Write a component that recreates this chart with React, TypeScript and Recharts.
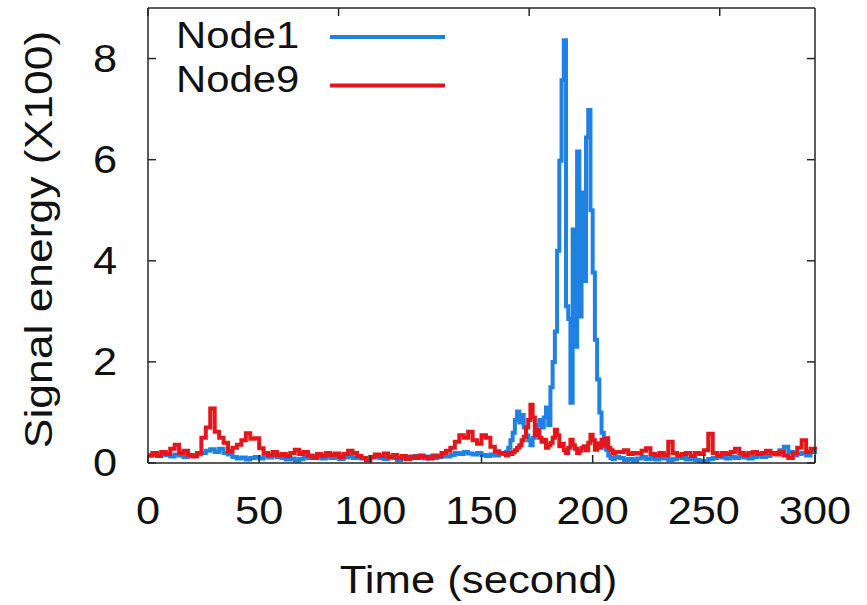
import { LineChart, Line, XAxis, YAxis, Legend, Label } from 'recharts';

// time stamps (s): 2 s steps, 1 s steps around the event
const times = [
  0, 2, 4, 6, 8, 10, 12, 14, 16, 18, 20, 22, 24, 26, 28, 30, 32, 34, 36, 38,
  40, 42, 44, 46, 48, 50, 52, 54, 56, 58, 60, 62, 64, 66, 68, 70, 72, 74, 76, 78,
  80, 82, 84, 86, 88, 90, 92, 94, 96, 98, 100, 102, 104, 106, 108, 110, 112, 114, 116, 118,
  120, 122, 124, 126, 128, 130, 132, 134, 136, 138, 140, 142, 144, 146, 148, 150, 152, 154, 156, 158,
  160, 161, 162, 163, 164, 165, 166, 167, 168, 169, 170, 171, 172, 173, 174, 175, 176, 177, 178, 179,
  180, 181, 182, 183, 184, 185, 186, 187, 188, 189, 190, 191, 192, 193, 194, 195, 196, 197, 198, 199,
  200, 201, 202, 203, 204, 205, 206, 207, 208, 209, 210,
  212, 214, 216, 218, 220, 222, 224, 226, 228, 230, 232, 234, 236, 238, 240, 242, 244, 246, 248, 250,
  252, 254, 256, 258, 260, 262, 264, 266, 268, 270, 272, 274, 276, 278, 280, 282, 284, 286, 288, 290,
  292, 294, 296, 298, 300,
];

const node1 = [
  0.15, 0.18, 0.14, 0.2, 0.16, 0.13, 0.17, 0.15, 0.12, 0.16, 0.14, 0.17, 0.2, 0.24, 0.27, 0.22, 0.28, 0.2, 0.17, 0.12,
  0.09, 0.11, 0.07, 0.1, 0.12, 0.09, 0.14, 0.11, 0.15, 0.12, 0.1, 0.07, 0.09, 0.05, 0.08, 0.12, 0.1, 0.14, 0.11, 0.09,
  0.13, 0.1, 0.12, 0.08, 0.11, 0.14, 0.1, 0.12, 0.09, 0.07, 0.11, 0.13, 0.1, 0.08, 0.12, 0.1, 0.06, 0.09, 0.12, 0.1,
  0.14, 0.11, 0.09, 0.13, 0.1, 0.12, 0.15, 0.13, 0.16, 0.2, 0.18, 0.22, 0.19, 0.17, 0.2, 0.16, 0.14, 0.17, 0.15, 0.18,
  0.2, 0.22, 0.3, 0.45, 0.6, 0.85, 1.02, 0.8, 0.95, 0.7, 0.55, 0.45, 0.35, 0.5, 0.62, 0.75, 0.85, 0.7, 0.9, 1.1,
  0.75, 1.5, 2.0, 2.6, 4.2, 5.98, 7.57, 8.36, 3.1, 2.85, 1.19, 4.62, 2.3, 6.16, 2.9, 5.35, 3.6, 6.44, 6.98, 5.0,
  3.77, 2.44, 1.65, 1.0, 0.6, 0.4, 0.26, 0.15, 0.1, 0.08, 0.12,
  0.1, 0.06, 0.08, 0.05, 0.09, 0.12, 0.08, 0.1, 0.07, 0.11, 0.09, 0.06, 0.08, 0.12, 0.1, 0.07, 0.09, 0.06, 0.04, 0.03,
  0.08, 0.1, 0.13, 0.11, 0.09, 0.12, 0.1, 0.14, 0.11, 0.09, 0.12, 0.15, 0.12, 0.14, 0.18, 0.2, 0.25, 0.32, 0.22, 0.15,
  0.18, 0.2, 0.15, 0.22, 0.18,
];

const node9 = [
  0.15, 0.2, 0.14, 0.22, 0.18, 0.28, 0.36, 0.2, 0.24, 0.16, 0.13, 0.2, 0.5, 0.7, 1.08, 0.62, 0.5, 0.4, 0.23, 0.3,
  0.36, 0.45, 0.59, 0.48, 0.49, 0.29, 0.2, 0.16, 0.22, 0.16, 0.18, 0.14, 0.2, 0.26, 0.18, 0.22, 0.15, 0.1, 0.18, 0.14,
  0.2, 0.16, 0.19, 0.12, 0.18, 0.24, 0.2, 0.14, 0.1, 0.05, 0.12, 0.17, 0.14, 0.19, 0.12, 0.16, 0.1, 0.14, 0.08, 0.13,
  0.1, 0.15, 0.12, 0.09, 0.15, 0.13, 0.2, 0.24, 0.3, 0.42, 0.55, 0.5, 0.62, 0.45, 0.38, 0.55, 0.5, 0.32, 0.23, 0.2,
  0.19, 0.15, 0.2, 0.18, 0.22, 0.25, 0.3, 0.35, 0.45, 0.52, 0.7, 0.85, 1.15, 0.9, 0.55, 0.65, 0.5, 0.42, 0.46, 0.3,
  0.35, 0.4, 0.5, 0.66, 0.55, 0.33, 0.38, 0.25, 0.2, 0.3, 0.46, 0.35, 0.28, 0.2, 0.24, 0.3, 0.33, 0.25, 0.4, 0.56,
  0.45, 0.26, 0.39, 0.3, 0.46, 0.35, 0.49, 0.3, 0.25, 0.2, 0.22,
  0.22, 0.25, 0.18, 0.2, 0.19, 0.24, 0.29, 0.18, 0.15, 0.2, 0.16, 0.42, 0.2, 0.15, 0.18, 0.2, 0.14, 0.2, 0.18, 0.25,
  0.58, 0.2, 0.15, 0.2, 0.18, 0.22, 0.28, 0.2, 0.16, 0.2, 0.22, 0.18, 0.2, 0.24, 0.2, 0.17, 0.22, 0.15, 0.1, 0.2,
  0.3, 0.45, 0.22, 0.28, 0.26,
];

const xTicks = [0, 50, 100, 150, 200, 250, 300];
const yTicks = [0, 2, 4, 6, 8];

const data = times.map((t, i) => ({ t, node1: node1[i], node9: node9[i] }));

const FONT = '"Liberation Sans", Arial, sans-serif';
const STRETCH = 1.14;
const FRAME = '#262626';

const XTick = ({ x, y, payload }: any) => (
  <text
    transform={`translate(${x},${y}) scale(${STRETCH},1)`}
    textAnchor="middle"
    dy="0.71em"
    fontFamily={FONT}
    fontSize={38}
    fill="#111"
  >
    {payload.value}
  </text>
);

const YTick = ({ x, y, payload }: any) => (
  <text
    transform={`translate(${x},${y}) scale(${STRETCH},1)`}
    textAnchor="end"
    dy="0.355em"
    fontFamily={FONT}
    fontSize={38}
    fill="#111"
  >
    {payload.value}
  </text>
);

const noTick = () => <g />;

const LegendBox = ({ payload }: any) => (
  <svg width={300} height={100}>
    {(payload || []).map((p: any, i: number) => (
      <g key={p.value}>
        <text
          transform={`translate(0,${48 + i * 43.5}) scale(1.13,1)`}
          fontFamily={FONT}
          fontSize={37}
          fill="#111"
        >
          {p.value}
        </text>
        <line x1={154} x2={269} y1={37 + i * 48.5} y2={37 + i * 48.5} stroke={p.color} strokeWidth={4} />
      </g>
    ))}
  </svg>
);

export default function App() {
  return (
    <div style={{ position: 'absolute', left: 0, top: 0 }}>
      <LineChart width={867} height={605} data={data} margin={{ top: 7, right: 51, bottom: 0, left: 0 }}>
        <XAxis
          dataKey="t"
          type="number"
          domain={[0, 300]}
          ticks={xTicks}
          height={142}
          axisLine={{ stroke: FRAME, strokeWidth: 1.5 }}
          tickLine={{ stroke: FRAME, strokeWidth: 1.5 }}
          tickSize={-8}
          tickMargin={42}
          tick={<XTick />}
          interval={0}
        >
          <Label
            content={({ viewBox }: any) => (
              <text
                transform={`translate(${viewBox.x + viewBox.width / 2 - 3},${viewBox.y + 130}) scale(1.12,1)`}
                textAnchor="middle"
                fontFamily={FONT}
                fontSize={39}
                fill="#111"
              >
                Time (second)
              </text>
            )}
          />
        </XAxis>
        <XAxis
          xAxisId="top"
          orientation="top"
          type="number"
          domain={[0, 300]}
          allowDataOverflow
          ticks={xTicks}
          height={1}
          axisLine={{ stroke: FRAME, strokeWidth: 1.5 }}
          tickLine={{ stroke: FRAME, strokeWidth: 1.5 }}
          tickSize={-8}
          tick={noTick}
          interval={0}
        />
        <YAxis
          type="number"
          domain={[0, 9]}
          ticks={yTicks}
          width={148}
          axisLine={{ stroke: FRAME, strokeWidth: 1.5 }}
          tickLine={{ stroke: FRAME, strokeWidth: 1.5 }}
          tickSize={-8}
          tickMargin={39}
          tick={<YTick />}
          interval={0}
        >
          <Label
            content={({ viewBox }: any) => (
              <text
                transform={`translate(52,${viewBox.y + viewBox.height / 2 + 4}) rotate(-90) scale(1.14,1)`}
                textAnchor="middle"
                fontFamily={FONT}
                fontSize={39}
                fill="#111"
              >
                Signal energy (X100)
              </text>
            )}
          />
        </YAxis>
        <YAxis
          yAxisId="right"
          orientation="right"
          type="number"
          domain={[0, 9]}
          allowDataOverflow
          ticks={yTicks}
          width={1}
          axisLine={{ stroke: FRAME, strokeWidth: 1.5 }}
          tickLine={{ stroke: FRAME, strokeWidth: 1.5 }}
          tickSize={-8}
          tick={noTick}
          interval={0}
        />
        <Legend
          layout="horizontal"
          verticalAlign="middle"
          align="center"
          content={<LegendBox />}
          wrapperStyle={{ left: 176, top: 0, width: 300, height: 100 }}
        />
        <Line
          name="Node1"
          dataKey="node1"
          type="stepAfter"
          stroke="#1f82e3"
          strokeWidth={4}
          dot={false}
          isAnimationActive={false}
        />
        <Line
          name="Node9"
          dataKey="node9"
          type="stepAfter"
          stroke="#e3161b"
          strokeWidth={4}
          dot={false}
          isAnimationActive={false}
        />
      </LineChart>
    </div>
  );
}
